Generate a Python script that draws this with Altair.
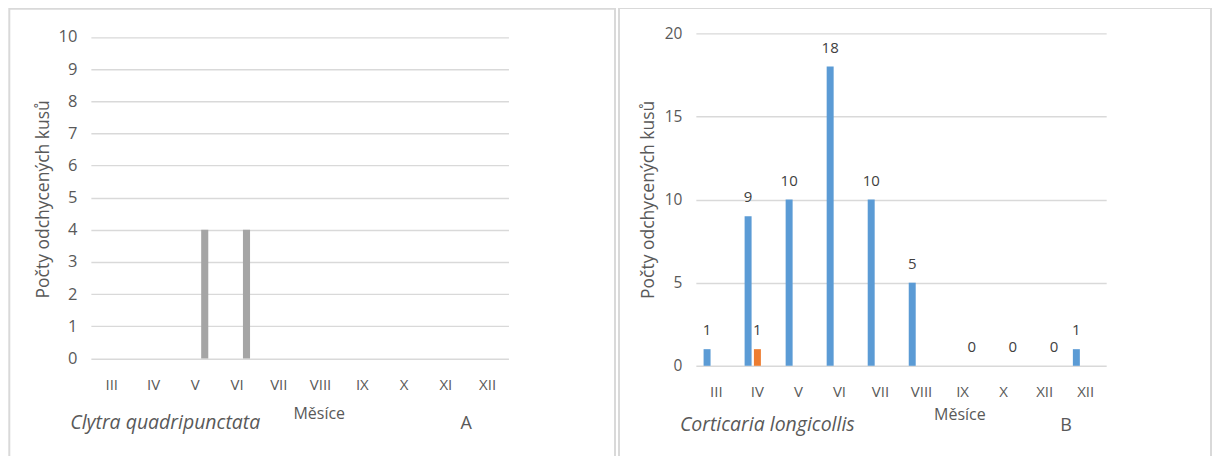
import altair as alt
import pandas as pd

# ---- data ----
months = ["III", "IV", "V", "VI", "VII", "VIII", "IX", "X", "XI", "XII"]
left_tick_labels = ["III", "IV", "V", "VI", "VII", "VIII", "IX", "X", "XI", "XII"]
right_tick_labels = ["III", "IV", "V", "VI", "VII", "VIII", "IX", "X", "XII", "XII"]
series = ["Řada 1", "Řada 2", "Řada 3"]
colors = ["#5B9BD5", "#ED7D31", "#A5A5A5"]

left_s1 = [None] * 10
left_s2 = [None] * 10
left_s3 = [None, None, 4, 4, None, None, None, None, None, None]

right_s1 = [1, 9, 10, 18, 10, 5, None, None, None, 1]
right_s2 = [None, 1, None, None, None, None, None, None, None, None]
right_s3 = [None, None, None, None, None, None, 0, 0, 0, None]

left_species = "Clytra quadripunctata"
right_species = "Corticaria longicollis"
left_letter = "A"
right_letter = "B"
y_title = "Počty odchycených kusů"
x_title = "Měsíce"


def long_df(s1, s2, s3):
    rows = []
    for name, vals in zip(series, [s1, s2, s3]):
        for m, v in zip(months, vals):
            if v is not None:
                rows.append({"month": m, "series": name, "value": v})
    return pd.DataFrame(rows)


left_df = long_df(left_s1, left_s2, left_s3)
right_df = long_df(right_s1, right_s2, right_s3)
one = pd.DataFrame({"k": [0]})

TXT = "#595959"
GRID = "#d9d9d9"
FONT = "Open Sans"


def label_expr(labels):
    expr = "datum.value"
    for k, lab in reversed(list(zip(months, labels))):
        expr = "datum.value == '%s' ? '%s' : (%s)" % (k, lab, expr)
    return expr


def panel(df, tick_labels, ydomain, yvalues, width, height, ytitle_y, xtitle_x, xtitle_y,
          border, species, species_xy, letter, letter_xy, fs_tick, show_labels):
    x = alt.X("month:N", scale=alt.Scale(domain=months, paddingInner=0, paddingOuter=0),
              axis=alt.Axis(title=x_title, labelExpr=label_expr(tick_labels), labelAngle=0,
                            ticks=False, domain=False, grid=False, labelPadding=19,
                            labelFontSize=15, labelColor=TXT, labelFont=FONT,
                            titleX=xtitle_x, titleY=xtitle_y, titleBaseline="middle",
                            titleAlign="center", titleFontSize=16, titleFontWeight="normal",
                            titleColor=TXT, titleFont=FONT))
    xo = alt.XOffset("series:N", scale=alt.Scale(domain=series, paddingInner=0.25, paddingOuter=0.83))
    y = alt.Y("value:Q", scale=alt.Scale(domain=ydomain, nice=False, zero=True),
              axis=alt.Axis(values=yvalues, grid=True, gridColor=GRID, gridWidth=1.4,
                            domain=False, ticks=False, labelPadding=14, labelFontSize=fs_tick,
                            labelColor=TXT, labelFont=FONT, title=y_title, titleX=-47.5,
                            titleY=ytitle_y, titleAngle=-90, titleBaseline="middle",
                            titleAlign="center", titleFontSize=17.5, titleFontWeight="normal",
                            titleColor=TXT, titleFont=FONT))
    bars = alt.Chart(df).mark_bar().encode(
        x=x, xOffset=xo, y=y,
        color=alt.Color("series:N", scale=alt.Scale(domain=series, range=colors), legend=None),
    )
    layers = []
    bx0, bx1, by0, by1 = border
    frame = alt.Chart(one).mark_rect(fillOpacity=0, stroke=GRID, strokeWidth=2).encode(
        x=alt.value(bx0), x2=alt.value(bx1), y=alt.value(by0), y2=alt.value(by1))
    layers.append(frame)
    layers.append(bars)
    if show_labels:
        labels = alt.Chart(df).mark_text(dy=-14, baseline="alphabetic", fontSize=15,
                                         color="#404040", font=FONT).encode(
            x=x, xOffset=xo, y=y, text=alt.Text("value:Q"))
        layers.append(labels)
    sp = alt.Chart(one).mark_text(text=species, align="left", baseline="alphabetic",
                                  fontStyle="italic", fontSize=19.5, color=TXT, font=FONT).encode(
        x=alt.value(species_xy[0]), y=alt.value(species_xy[1]))
    lt = alt.Chart(one).mark_text(text=letter, align="center", baseline="alphabetic",
                                  fontSize=18, color=TXT, font=FONT).encode(
        x=alt.value(letter_xy[0]), y=alt.value(letter_xy[1]))
    layers += [sp, lt]
    return alt.layer(*layers).properties(width=width, height=height)


left = panel(left_df, left_tick_labels, [0, 10.11], list(range(11)), 418.3, 325.6,
             165.8, 228.3, 54.7, (-81.7, 525, -24.7, 440), left_species, (-20.7, 396.3),
             left_letter, (376, 396.3), 16.5, False)
right = panel(right_df, right_tick_labels, [0, 20], [0, 5, 10, 15, 20], 411, 333,
              166.3, 264, 48.8, (-77, 516, -25.4, 440), right_species, (-16, 398),
              right_letter, (370.7, 398), 15.5, True)

chart = alt.hconcat(left, right, spacing=187, bounds="flush").resolve_scale(
    x="independent", y="independent", xOffset="independent"
).properties(
    padding={"left": 0, "top": -2, "right": 0, "bottom": 0}
).configure(font=FONT).configure_view(strokeWidth=0)

chart.save("out.html", embed_options={"renderer": "svg", "actions": False})
